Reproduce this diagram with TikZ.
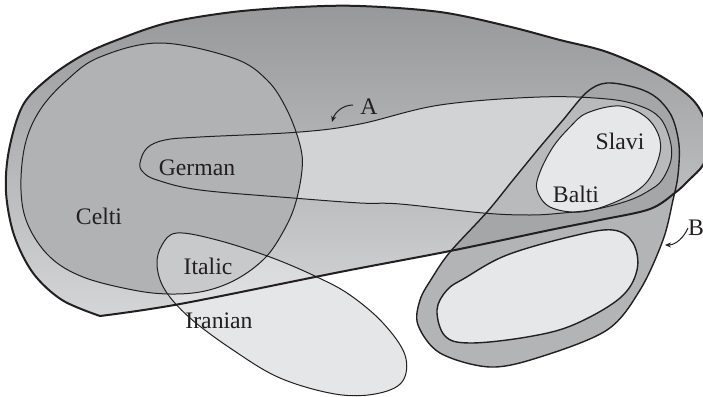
\documentclass[tikz,border=0pt]{standalone}
\usepackage{fontspec}
\setmainfont{Liberation Serif}
\usetikzlibrary{arrows.meta}
\definecolor{ink}{HTML}{231F20}
\definecolor{atop}{HTML}{97989A}
\definecolor{abot}{HTML}{D4D5D7}
\definecolor{celtifill}{HTML}{B1B2B4}
\definecolor{germfill}{HTML}{D2D3D5}
\definecolor{itbase}{HTML}{DBDCDE}
\definecolor{bout}{HTML}{B3B4B6}
\definecolor{bina}{HTML}{A5A6A8}
\definecolor{binger}{HTML}{B9BABC}
\definecolor{pale}{HTML}{E6E7E9}
\def\pathA{plot[smooth, tension=0.55] coordinates {(100,316) (62,300) (33,273) (14,235) (6,192) (9,150) (23,105) (50,77) (83,55) (117,40) (167,23) (233,12) (300,7) (360,6) (440,12) (507,26) (560,40) (607,52) (657,74) (690,97) (704,118) (709,145) (703,165) (690,179) (676,192) (650,209) (600,220) (550,230) (450,251) (340,272) (180,304) (100,316)} -- cycle}
\def\pathCelti{plot[smooth cycle, tension=0.6] coordinates {(21,190) (25,145) (40,110) (67,80) (100,57) (160,43) (233,58) (267,80) (287,110) (300,145) (302,170) (295,205) (283,232) (265,258) (237,279) (205,291) (170,294) (133,290) (83,277) (50,257) (28,225)}}
\def\pathGerman{plot[smooth cycle, tension=0.6] coordinates {(140,163) (147,148) (165,140) (200,137) (300,132) (360,124) (440,105) (540,97) (607,99) (640,106) (660,118) (670,140) (671,160) (662,180) (650,190) (630,200) (597,209) (563,213) (530,215) (483,213) (400,204) (360,203) (293,198) (200,190) (157,180) (143,172)}}
\def\pathItalic{plot[smooth cycle, tension=0.6] coordinates {(177,233) (217,240) (270,257) (317,277) (350,295) (383,323) (405,355) (402,382) (375,394) (335,394) (280,378) (233,350) (190,318) (165,290) (157,265) (162,245)}}
\def\pathB{plot[smooth cycle, tension=0.55] coordinates {(607,83) (637,88) (657,98) (672,117) (679,145) (678,175) (673,200) (663,240) (640,290) (607,330) (540,357) (490,367) (440,353) (418,325) (420,300) (432,278) (450,252) (487,212) (513,180) (540,147) (563,120) (587,92)}}
\def\pathSlavi{plot[smooth cycle, tension=0.6] coordinates {(537,190) (540,172) (553,147) (570,127) (587,113) (620,106) (647,118) (660,140) (657,163) (643,186) (613,203) (580,212) (550,207)}}
\def\pathLow{plot[smooth cycle, tension=0.6] coordinates {(437,310) (447,290) (465,278) (507,255) (573,236) (613,230) (633,243) (637,270) (620,298) (573,325) (527,337) (470,343) (445,336)}}
\begin{document}
\begin{tikzpicture}[x=1pt,y=-1pt,
  lbl/.style={font=\fontsize{23.7}{28}\selectfont, text=ink, inner sep=0pt, anchor=base},
  thinline/.style={draw=ink, line width=1pt},
  midline/.style={draw=ink, line width=1.4pt},
  heavyline/.style={draw=ink, line width=2pt},
  pointer/.style={draw=ink, line width=1pt, -{Stealth[length=6pt,width=5pt]}}]
\useasboundingbox (0,0) rectangle (703,396);
% fills
\fill[itbase] \pathItalic;
\shade[top color=atop, bottom color=abot] \pathA;
\fill[germfill] \pathGerman;
\fill[celtifill] \pathCelti;
\fill[white, opacity=0.3] \pathItalic;
\fill[bout] \pathB;
\begin{scope}
  \clip \pathA;
  \fill[bina] \pathB;
\end{scope}
\begin{scope}
  \clip \pathGerman;
  \fill[binger] \pathB;
\end{scope}
\fill[pale] \pathSlavi;
\fill[pale] \pathLow;
% outlines
\draw[thinline] \pathCelti;
\draw[thinline] \pathGerman;
\draw[thinline] \pathItalic;
\draw[thinline] \pathSlavi;
\draw[midline] \pathLow;
\draw[midline] \pathB;
\draw[heavyline, line join=round] \pathA;
% labels
\node[lbl] (lgerman) at (197,175) {German};
\node[lbl] (lceltic) at (99,224) {Celti};
\node[lbl] (litalic) at (208,274) {Italic};
\node[lbl] (liranian) at (219,328) {Iranian};
\node[lbl] (lslavi) at (620,149) {Slavi};
\node[lbl] (lbalti) at (576,202) {Balti};
\node[lbl] (la) at (369,114) {A};
\node[lbl, anchor=base west] (lb) at (688,235) {B};
% pointers
\coordinate (a1) at (353,105);
\coordinate (a2) at (332,122);
\coordinate (b1) at (688,228);
\coordinate (b2) at (665,245);
\draw[pointer] (a1) .. controls (343,105) and (335,112) .. (a2);
\draw[pointer] (b1) .. controls (684,237) and (676,245) .. (b2);
\end{tikzpicture}
\end{document}
